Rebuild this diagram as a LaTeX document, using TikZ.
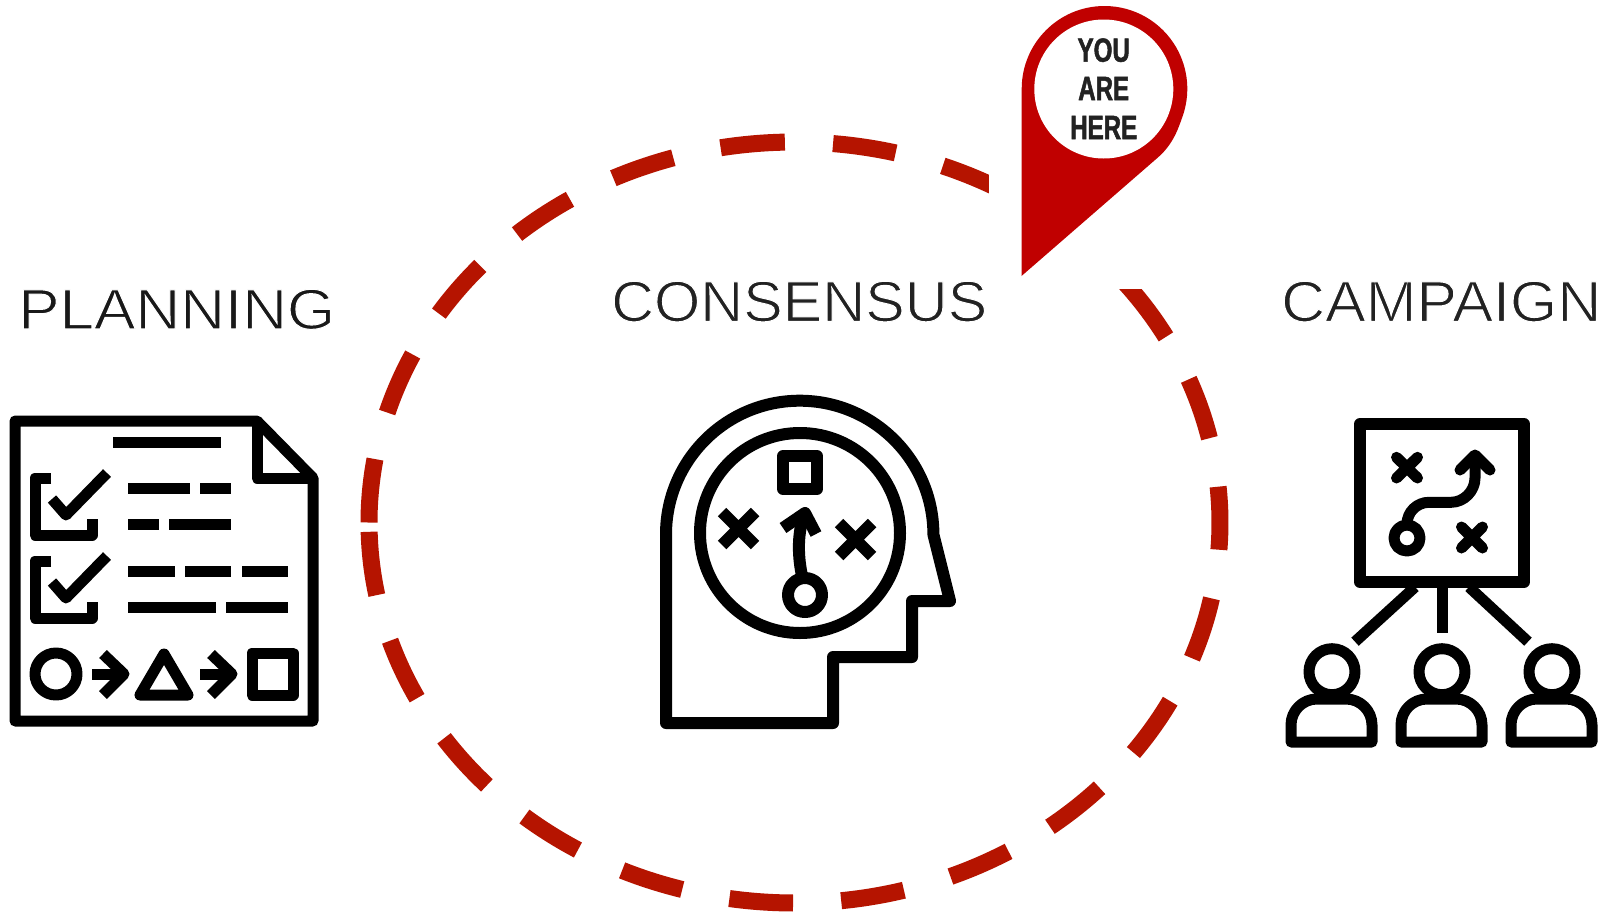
\documentclass[tikz,border=0pt]{standalone}
\usepackage{fontspec}
\usepackage{graphicx}
\setmainfont{Liberation Sans}
\newfontfamily\pinfont[FakeStretch=0.72,FakeBold=1.5]{Liberation Sans}
\newcommand{\thintext}[1]{\special{pdf:code q 2 Tr 0.9 w 1 1 1 RG}#1\special{pdf:code Q}}
\definecolor{dashred}{HTML}{B51400}
\definecolor{pinred}{HTML}{C00000}
\definecolor{labelgrey}{HTML}{222222}
\tikzset{
  iconthin/.style={draw=black,line width=11pt,line join=round,line cap=butt},
  iconthick/.style={draw=black,line width=12pt,line join=round,line cap=butt},
  iconmid/.style={draw=black,line width=11pt,line join=round,line cap=butt},
  iconround/.style={draw=black,line width=11pt,line join=round,line cap=round},
  ringdash/.style={draw=dashred,line width=17pt,line cap=butt},
  toplabel/.style={inner sep=0pt,anchor=base west,text=labelgrey,font=\fontsize{50pt}{50pt}\selectfont},
  pintext/.style={inner sep=0pt,anchor=base,text=labelgrey,font=\pinfont\fontsize{33.5pt}{33.5pt}\selectfont\bfseries}
}
\begin{document}
\begin{tikzpicture}[x=1pt,y=-1pt]
\useasboundingbox (0,0) rectangle (1601,916);
\fill[white] (0,0) rectangle (1601,916);

% dashed ring
\foreach \a/\b in {260.0/268.7,244.8/253.45,229.3/238.15,213.3/222.4,196.8/206.2,180/189.6,
  169/178.6,152.5/161.9,136.3/145.45,120.6/129.4,105.3/113.9,90.2/98.8,
  75.1/83.7,59.8/68.5,44.2/53.1,28/37.2,11.5/20.9,-5.4/4.1,-22.1/-12.8,-42/-29.2,-69.6/-58,-84.8/-76.25}
  \draw[ringdash] (794.5,522.5) ++(\a:425.5 and 380.5) arc[start angle=\a,end angle=\b,x radius=425.5,y radius=380.5];

% white ground of the pin
\fill[white] (989,0) rectangle (1200,289);

% pin
\fill[pinred] (1021.7,88.8) arc[start angle=180,end angle=380,radius=82.8] .. controls (1178.9,126.4) and (1174,143.5) .. (1158,157.4) -- (1021.5,276) -- cycle;
\fill[white] (1103.8,89) circle[radius=69.5];
\node[pintext] (you) at (1103.7,61.7) {YOU};
\node[pintext] (are) at (1103.7,100) {ARE};
\node[pintext] (here) at (1103.7,139) {HERE};

% labels
\node[toplabel,text=black!90] (planning) at (18,328.8) {\resizebox{317pt}{39.5pt}{\thintext{PLANNING}}};
\node[toplabel] (consensus) at (611,321.3) {\resizebox{376pt}{40pt}{\thintext{CONSENSUS}}};
\node[toplabel] (campaign) at (1281,321.3) {\resizebox{320pt}{40pt}{\thintext{CAMPAIGN}}};

% planning document
\draw[iconthin] (15,421) -- (257,421) -- (313,478) -- (313,721) -- (15,721) -- cycle;
\draw[iconthin] (257,421) -- (257,478) -- (313,478);
\draw[iconthin] (113,442) -- (221,442);
\foreach \dy in {0,83}{
  \draw[iconthin] (51,478+\dy) -- (35,478+\dy) -- (35,535+\dy) -- (92,535+\dy) -- (92,519+\dy);
  \draw[iconthin] (52,499+\dy) -- (66,515+\dy) -- (107,473+\dy);
}
\draw[iconthin] (128,488) -- (190,488) (200,488) -- (231,488);
\draw[iconthin] (128,524) -- (159,524) (169,524) -- (231,524);
\draw[iconthin] (128,571) -- (174.5,571) (185,571) -- (231,571) (242,571) -- (288,571);
\draw[iconthin] (128,607) -- (216,607) (226,607) -- (288,607);
\draw[iconthin] (56,674) circle[radius=21];
\foreach \dx in {0,108}{
  \draw[iconthin] (92+\dx,674) -- (122+\dx,674);
  \draw[iconthin] (103+\dx,654) -- (124+\dx,674) -- (103+\dx,695);
}
\draw[iconthin] (164,654) -- (188,695) -- (140,695) -- cycle;
\draw[iconthin] (252,653) -- (293,653) -- (293,695) -- (252,695) -- cycle;

% consensus head
\draw[iconthick] (666,723) -- (666,534.4) arc[start angle=180,end angle=360,radius=133.7] -- (950,601) -- (912,601) -- (912,657) -- (833,657) -- (833,723) -- cycle;
\draw[iconthick] (800,533) circle[radius=100];
\draw[iconthick] (783,456) -- (817,456) -- (817,489) -- (783,489) -- cycle;
\draw[iconthick] (722,512) -- (755,545) (755,512) -- (722,545);
\draw[iconthick] (839,523) -- (872,556) (872,523) -- (839,556);
\draw[iconthick] (802.3,577) .. controls (798,558) and (797,535) .. (804,515);
\draw[iconthick] (783,528) -- (805,513) -- (816,534);
\draw[iconthick] (805,595) circle[radius=17];

% campaign board
\draw[iconthick] (1360,424) -- (1524,424) -- (1524,582) -- (1360,582) -- cycle;
\draw[iconround] (1396.5,457.3) -- (1417.5,478) (1417.5,457.3) -- (1396.5,478);
\draw[iconround] (1461.5,527) -- (1482.5,548) (1482.5,527) -- (1461.5,548);
\draw[iconmid] (1407,538) circle[radius=13];
\draw[iconmid] (1407,524) .. controls (1407,512) and (1417,502.3) .. (1429,502.3) -- (1451,502.3) .. controls (1464,502.3) and (1475,491) .. (1475,478) -- (1475,458);
\draw[iconmid,line cap=round] (1460,470) -- (1475,455) -- (1490,470);
\draw[iconmid] (1442,585) -- (1442,633);
\draw[iconmid] (1415,587) -- (1355,641.7);
\draw[iconmid] (1469,587) -- (1528,641.7);
\foreach \dx in {0,110,220}{
  \draw[iconmid] (1332+\dx,671.7) circle[radius=23];
  \draw[iconmid] (1291+\dx,742) -- (1291+\dx,725) arc[start angle=180,end angle=270,radius=26] -- (1346+\dx,699) arc[start angle=270,end angle=360,radius=26] -- (1372+\dx,742) -- cycle;
}
\end{tikzpicture}
\end{document}
